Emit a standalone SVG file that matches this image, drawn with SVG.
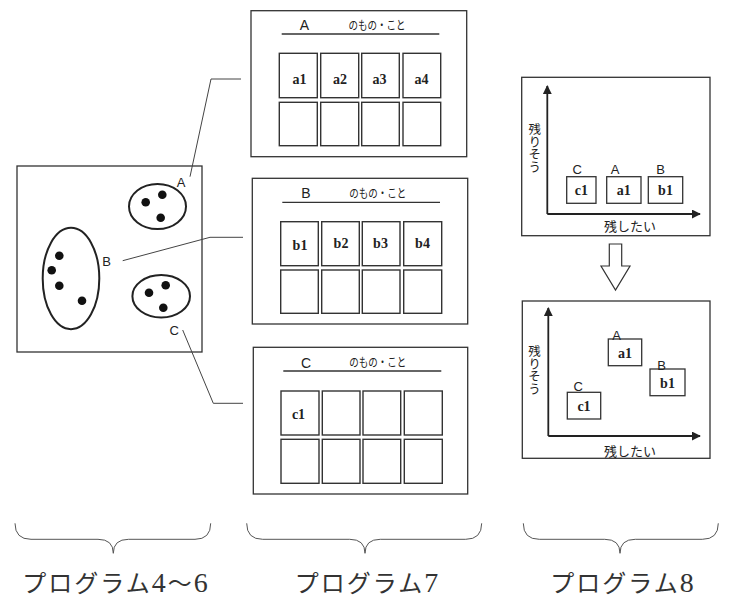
<svg xmlns="http://www.w3.org/2000/svg" width="730" height="598" viewBox="0 0 730 598">
<style>
.box{fill:#fff;stroke:#333;stroke-width:1.3}
.cell{fill:#fff;stroke:#333;stroke-width:1.4}
.ell{fill:none;stroke:#222;stroke-width:2}
.dot{fill:#111}
.conn{fill:none;stroke:#444;stroke-width:1}
.ax{fill:none;stroke:#222;stroke-width:1.8}
.sans{font-family:"Liberation Sans","Noto Sans CJK JP",sans-serif;fill:#222}
.vert{writing-mode:vertical-rl;text-orientation:upright}
.lbl{font-family:"Liberation Serif","Noto Sans CJK JP",serif;font-weight:bold;font-size:14px;fill:#222;text-anchor:middle}
.brace{fill:none;stroke:#555;stroke-width:1}
.prog{font-family:"Liberation Serif","Noto Sans CJK JP",serif;font-size:24px;fill:#333;text-anchor:middle}
.dg{font-size:28px}
</style>
<defs>
<marker id="ah" viewBox="0 0 10 10" refX="9" refY="5" markerWidth="5" markerHeight="5" orient="auto" markerUnits="strokeWidth">
<path d="M0,0 L10,5 L0,10 z" fill="#222"/>
</marker>
</defs>

<g id="clusters">
<rect class="box" x="17" y="166" width="185" height="186"/>
<ellipse class="ell" cx="157.5" cy="206.5" rx="28.5" ry="22.5"/>
<circle class="dot" cx="145.7" cy="202.3" r="4.3"/>
<circle class="dot" cx="162.3" cy="194.7" r="4.3"/>
<circle class="dot" cx="160.7" cy="217.7" r="4.3"/>
<ellipse class="ell" cx="71" cy="278.5" rx="28.3" ry="50.7"/>
<circle class="dot" cx="59.3" cy="255.7" r="4.3"/>
<circle class="dot" cx="51.7" cy="270.3" r="4.3"/>
<circle class="dot" cx="59.3" cy="285.7" r="4.3"/>
<circle class="dot" cx="82" cy="300.7" r="4.3"/>
<ellipse class="ell" cx="161.2" cy="296.2" rx="28.8" ry="21.2"/>
<circle class="dot" cx="149" cy="292.7" r="4.3"/>
<circle class="dot" cx="165.7" cy="285.3" r="4.3"/>
<circle class="dot" cx="163.3" cy="307.7" r="4.3"/>
<text class="sans" x="181" y="186.5" font-size="13" text-anchor="middle">A</text>
<text class="sans" x="106.7" y="266" font-size="13" text-anchor="middle">B</text>
<text class="sans" x="174.3" y="334.5" font-size="13" text-anchor="middle">C</text>
</g>

<g id="connectors">
<polyline class="conn" points="190,176.7 211,79 241,79"/>
<polyline class="conn" points="122.7,260.7 210,237.3 243,237.3"/>
<polyline class="conn" points="182.7,330 213.3,403.3 243,403.3"/>
</g>

<g id="panelA">
<rect class="box" x="251" y="10.7" width="215.7" height="146"/>
<text class="sans" x="304.3" y="30" font-size="14" text-anchor="middle">A</text>
<text class="sans" x="348.5" y="29.5" font-size="12" textLength="57" lengthAdjust="spacingAndGlyphs">のもの・こと</text>
<line x1="281.7" y1="34" x2="439.3" y2="34" stroke="#333" stroke-width="1.3"/>
<rect class="cell" x="279.3" y="53.3" width="38" height="44.4"/>
<rect class="cell" x="320.7" y="53.3" width="38" height="44.4"/>
<rect class="cell" x="361.7" y="53.3" width="37.6" height="44.4"/>
<rect class="cell" x="403" y="53.3" width="37.7" height="44.4"/>
<rect class="cell" x="279.3" y="102.3" width="38" height="43.4"/>
<rect class="cell" x="320.7" y="102.3" width="38" height="43.4"/>
<rect class="cell" x="361.7" y="102.3" width="37.6" height="43.4"/>
<rect class="cell" x="403" y="102.3" width="37.7" height="43.4"/>
<text class="lbl" x="299.5" y="83.5">a1</text>
<text class="lbl" x="340" y="83.5">a2</text>
<text class="lbl" x="379.5" y="83.5">a3</text>
<text class="lbl" x="421.5" y="83.5">a4</text>
</g>

<g id="panelB">
<rect class="box" x="252.3" y="178.3" width="215.4" height="145.7"/>
<text class="sans" x="306" y="198.3" font-size="14" text-anchor="middle">B</text>
<text class="sans" x="349.3" y="197.8" font-size="12" textLength="57" lengthAdjust="spacingAndGlyphs">のもの・こと</text>
<line x1="282.3" y1="202.3" x2="440" y2="202.3" stroke="#333" stroke-width="1.3"/>
<rect class="cell" x="280.7" y="221.7" width="37.6" height="44"/>
<rect class="cell" x="321.7" y="221.7" width="37.6" height="44"/>
<rect class="cell" x="362.3" y="221.7" width="37.7" height="44"/>
<rect class="cell" x="403.7" y="221.7" width="38" height="44"/>
<rect class="cell" x="280.7" y="270" width="37.6" height="43.3"/>
<rect class="cell" x="321.7" y="270" width="37.6" height="43.3"/>
<rect class="cell" x="362.3" y="270" width="37.7" height="43.3"/>
<rect class="cell" x="403.7" y="270" width="38" height="43.3"/>
<text class="lbl" x="300" y="249.5">b1</text>
<text class="lbl" x="341" y="248">b2</text>
<text class="lbl" x="380.5" y="248">b3</text>
<text class="lbl" x="422.5" y="248">b4</text>
</g>

<g id="panelC">
<rect class="box" x="253.3" y="347.3" width="214.4" height="146.7"/>
<text class="sans" x="306" y="367.8" font-size="14" text-anchor="middle">C</text>
<text class="sans" x="349.3" y="367.3" font-size="12" textLength="57" lengthAdjust="spacingAndGlyphs">のもの・こと</text>
<line x1="283.3" y1="371" x2="441.3" y2="371" stroke="#333" stroke-width="1.3"/>
<rect class="cell" x="281" y="391" width="38" height="44"/>
<rect class="cell" x="322.3" y="391" width="37.7" height="44"/>
<rect class="cell" x="363" y="391" width="37.7" height="44"/>
<rect class="cell" x="404.3" y="391" width="38" height="44"/>
<rect class="cell" x="281" y="439.3" width="38" height="44"/>
<rect class="cell" x="322.3" y="439.3" width="37.7" height="44"/>
<rect class="cell" x="363" y="439.3" width="37.7" height="44"/>
<rect class="cell" x="404.3" y="439.3" width="38" height="44"/>
<text class="lbl" x="298.5" y="418.5">c1</text>
</g>

<g id="chartBefore">
<rect class="box" x="521.7" y="77.3" width="188.3" height="158.4"/>
<line class="ax" x1="547.3" y1="214" x2="547.3" y2="86" marker-end="url(#ah)"/>
<line class="ax" x1="547.3" y1="214" x2="700" y2="214" marker-end="url(#ah)"/>
<text class="sans vert" x="533.3" y="123" font-size="12.5">残りそう</text>
<text class="sans" x="630" y="231" font-size="13" text-anchor="middle">残したい</text>
<rect class="box" x="566.7" y="176.7" width="29.3" height="26.6"/>
<rect class="box" x="606.7" y="176.7" width="34.3" height="26.6"/>
<rect class="box" x="648.3" y="176.7" width="34.4" height="26.6"/>
<text class="lbl" x="581.3" y="195">c1</text>
<text class="lbl" x="623.8" y="195">a1</text>
<text class="lbl" x="665.5" y="195">b1</text>
<text class="sans" x="577.3" y="174" font-size="13" text-anchor="middle">C</text>
<text class="sans" x="615" y="174" font-size="13" text-anchor="middle">A</text>
<text class="sans" x="660.7" y="174" font-size="13" text-anchor="middle">B</text>
</g>

<g id="downArrow">
<polygon points="609.3,244 621.7,244 621.7,266 630,266 615.5,290 601,266 609.3,266" fill="#fff" stroke="#333" stroke-width="1.2"/>
</g>

<g id="chartAfter">
<rect class="box" x="522.3" y="301" width="187.7" height="157.3"/>
<line class="ax" x1="548.3" y1="436" x2="548.3" y2="308" marker-end="url(#ah)"/>
<line class="ax" x1="548.3" y1="436" x2="700" y2="436" marker-end="url(#ah)"/>
<text class="sans vert" x="533" y="345" font-size="12.5">残りそう</text>
<text class="sans" x="630" y="455.5" font-size="13" text-anchor="middle">残したい</text>
<rect class="box" x="608.3" y="339" width="33.4" height="26.7"/>
<rect class="box" x="650" y="369" width="35" height="26.7"/>
<rect class="box" x="567.3" y="392.3" width="33.4" height="26.7"/>
<text class="lbl" x="625" y="357.5">a1</text>
<text class="lbl" x="667.5" y="387.5">b1</text>
<text class="lbl" x="584" y="410.5">c1</text>
<text class="sans" x="616.7" y="340" font-size="13" text-anchor="middle">A</text>
<text class="sans" x="661.7" y="369.5" font-size="13" text-anchor="middle">B</text>
<text class="sans" x="578.3" y="391" font-size="13" text-anchor="middle">C</text>
</g>

<g id="braces">
<path class="brace" d="M15,523.3 Q15,539.3 31,539.3 L98,539.3 Q113.3,539.3 113.3,553.3 Q113.3,539.3 128.6,539.3 L195,539.3 Q210.7,539.3 210.7,523.3"/>
<path class="brace" d="M246.7,523.3 Q246.7,539.3 262.7,539.3 L349.7,539.3 Q365,539.3 365,553.3 Q365,539.3 380.3,539.3 L465.7,539.3 Q481.7,539.3 481.7,523.3"/>
<path class="brace" d="M523.3,523.3 Q523.3,539.3 539.3,539.3 L604.7,539.3 Q620,539.3 620,553.3 Q620,539.3 635.3,539.3 L702.3,539.3 Q718.3,539.3 718.3,523.3"/>
<text class="prog" x="116" y="592" letter-spacing="2">プログラム<tspan class="dg">4</tspan>〜<tspan class="dg">6</tspan></text>
<text class="prog" x="367.5" y="592" letter-spacing="2">プログラム<tspan class="dg">7</tspan></text>
<text class="prog" x="623" y="592" letter-spacing="2">プログラム<tspan class="dg">8</tspan></text>
</g>
</svg>
